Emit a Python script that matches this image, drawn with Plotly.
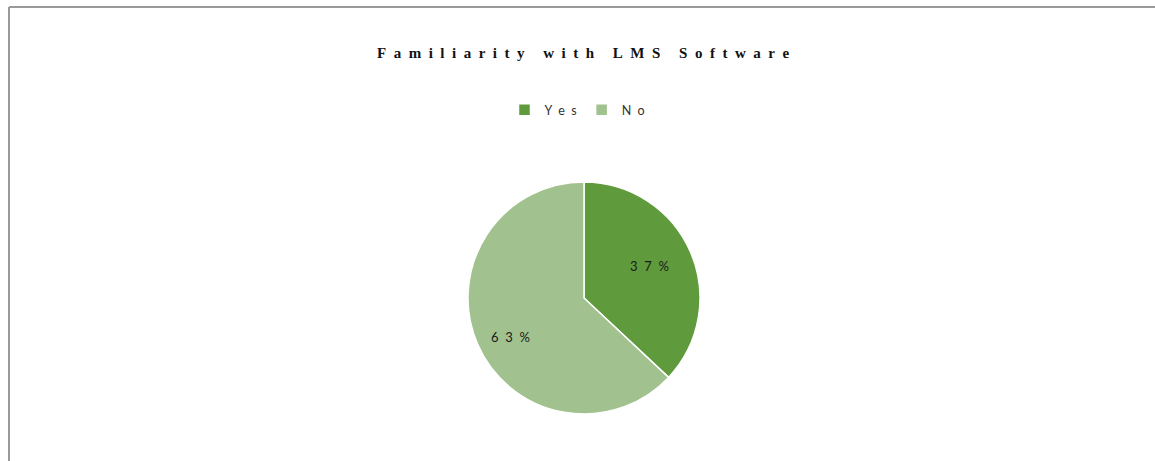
import math
import plotly.graph_objects as go

# Survey answers: share of respondents familiar with LMS software
categories = ["Yes", "No"]
shares = [37, 63]
colors = ["#5f9a3c", "#a1c28e"]
title_text = "Familiarity with LMS Software"

NB = "\u00a0"


def spaced(s, gap=NB, word_gap=NB * 3):
    """Spread characters apart to mimic wide letter spacing."""
    words = s.split(" ")
    return word_gap.join(gap.join(w) for w in words)


W, H = 1155, 461
cx, cy, r = 584, 298, 116
# radial position (fraction of radius) and angular nudge (deg) of each % label
label_radius = [0.625, 0.72]
label_nudge = [-2.8, -4.4]

fig = go.Figure(
    go.Pie(
        labels=[spaced(c, NB * 2) for c in categories],
        values=shares,
        textinfo="none",
        marker=dict(colors=colors, line=dict(color="white", width=1.5)),
        sort=False,
        direction="clockwise",
        rotation=0,
        domain=dict(
            x=[(cx - r) / W, (cx + r) / W],
            y=[(H - cy - r) / H, (H - cy + r) / H],
        ),
    )
)

# percentage labels placed around each slice's mid-angle
annotations = []
total = sum(shares)
start = 0.0
for v, fr, nudge in zip(shares, label_radius, label_nudge):
    mid = (start + v / 2) / total * 2 * math.pi + math.radians(nudge)
    start += v
    px = cx + fr * r * math.sin(mid)
    py = cy - fr * r * math.cos(mid)
    annotations.append(
        dict(
            text=spaced(f"{v}%", NB * 2),
            x=px / W, y=1 - py / H,
            xref="paper", yref="paper",
            xanchor="center", yanchor="middle",
            showarrow=False,
            font=dict(family="Lato, Open Sans, sans-serif", size=13, color="#1a1a1a"),
        )
    )

annotations.append(
    dict(
        text="<b>" + spaced(title_text, NB * 2, NB * 5) + "</b>",
        x=583 / W,
        y=1 - 53 / H,
        xref="paper",
        yref="paper",
        xanchor="center",
        yanchor="middle",
        showarrow=False,
        font=dict(family="Liberation Serif, Times New Roman, serif", size=15, color="#111111"),
    )
)

fig.update_layout(
    width=W,
    height=H,
    margin=dict(l=0, r=0, t=0, b=0),
    paper_bgcolor="white",
    plot_bgcolor="white",
    showlegend=True,
    legend=dict(
        orientation="h",
        x=0.5,
        xanchor="center",
        y=1 - 110 / H,
        yanchor="middle",
        font=dict(family="Lato, Open Sans, sans-serif", size=12.5, color="#333333"),
        itemwidth=30,
    ),
    annotations=annotations,
    shapes=[
        # frame around the chart area (top and left edges visible)
        dict(type="line", xref="paper", yref="paper",
             x0=9 / W, x1=1.0, y0=1 - 7 / H, y1=1 - 7 / H,
             line=dict(color="#999999", width=2)),
        dict(type="line", xref="paper", yref="paper",
             x0=9 / W, x1=9 / W, y0=0, y1=1 - 7 / H,
             line=dict(color="#999999", width=2)),
    ],
)

fig.write_html("out.html")
